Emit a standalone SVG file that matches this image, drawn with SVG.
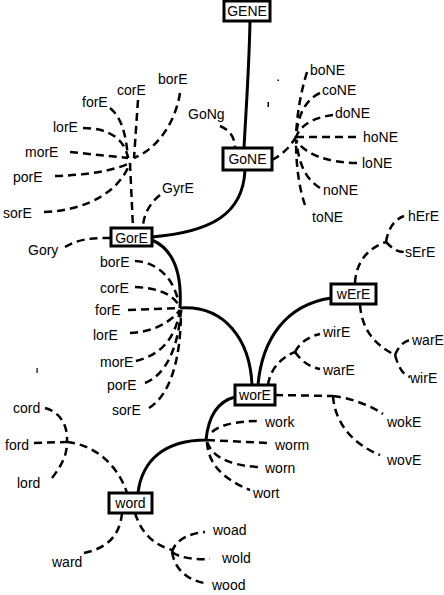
<svg xmlns="http://www.w3.org/2000/svg" width="444" height="595" viewBox="0 0 444 595">
<style>
text{font-family:"Liberation Sans",Arial,sans-serif;font-size:14px;fill:#000}
.bx{fill:#fff;stroke:#000;stroke-width:3}
.bt{text-anchor:middle}
.s{fill:none;stroke:#000;stroke-width:3}
.d{fill:none;stroke:#000;stroke-width:2.5;stroke-dasharray:8 5}
</style>
<rect width="444" height="595" fill="#fff"/>
<g id="connectors">
<path class="s" d="M250,21 C249,70 246,110 244,148"/>
<path class="s" d="M245,170 C243,215 210,232 152,237"/>
<path class="s" d="M152,240 C175,250 182,275 180,308"/>
<path class="s" d="M180,308 C225,305 250,340 252,385"/>
<path class="s" d="M331,298 C285,305 262,340 258,385"/>
<path class="s" d="M235,397 C215,402 208,420 206,440 C165,440 142,460 138,493"/>
<path class="d" d="M83,128 C110,128 125,140 128,158"/>
<path class="d" d="M110,108 C122,118 126,135 128,158"/>
<path class="d" d="M138,100 L134,158"/>
<path class="d" d="M180,93 C175,125 155,150 134,158"/>
<path class="d" d="M70,152 L128,158"/>
<path class="d" d="M55,176 C90,175 115,170 130,163"/>
<path class="d" d="M44,212 C90,210 120,190 130,163"/>
<path class="d" d="M130,163 L133,228"/>
<path class="d" d="M160,195 C150,203 143,215 143,228"/>
<path class="d" d="M220,126 C230,130 235,138 235,148"/>
<path class="d" d="M307,72 C300,95 297,115 296,137"/>
<path class="d" d="M320,93 C305,100 298,115 296,137"/>
<path class="d" d="M333,115 C318,117 302,122 296,137"/>
<path class="d" d="M356,137 L296,137"/>
<path class="d" d="M357,163 C330,163 305,155 296,140"/>
<path class="d" d="M320,188 C308,180 300,170 296,140"/>
<path class="d" d="M305,205 C298,185 296,160 296,140"/>
<path class="d" d="M272,160 C282,155 290,147 296,137"/>
<path class="d" d="M65,247 C80,238 95,238 111,238"/>
<path class="d" d="M135,261 C155,262 172,275 178,300"/>
<path class="d" d="M135,287 C155,288 170,292 179,305"/>
<path class="d" d="M128,310 L180,308"/>
<path class="d" d="M130,333 C150,332 168,325 180,310"/>
<path class="d" d="M136,361 C160,355 175,340 180,310"/>
<path class="d" d="M145,383 C165,375 178,350 181,310"/>
<path class="d" d="M149,408 C170,395 181,360 181,310"/>
<path class="d" d="M355,283 C356,262 368,248 386,242"/>
<path class="d" d="M386,242 C388,230 393,220 404,216"/>
<path class="d" d="M386,242 C392,248 396,252 404,252"/>
<path class="d" d="M360,305 C362,330 375,345 395,355"/>
<path class="d" d="M395,355 C398,348 402,342 410,340"/>
<path class="d" d="M395,355 C398,365 402,375 410,377"/>
<path class="d" d="M268,385 C270,370 280,358 295,352"/>
<path class="d" d="M295,352 C300,342 310,336 320,334"/>
<path class="d" d="M295,352 C302,362 310,367 320,369"/>
<path class="d" d="M275,395 L333,396"/>
<path class="d" d="M333,396 C350,398 370,405 383,414"/>
<path class="d" d="M333,396 C335,425 355,445 380,455"/>
<path class="d" d="M212,432 C220,425 235,421 262,421"/>
<path class="d" d="M207,440 L268,443"/>
<path class="d" d="M207,442 C212,455 225,465 258,467"/>
<path class="d" d="M207,442 C208,465 225,480 250,490"/>
<path class="d" d="M45,408 C60,412 68,425 67,442"/>
<path class="d" d="M52,478 C62,465 67,455 67,442"/>
<path class="d" d="M34,443 L67,442"/>
<path class="d" d="M67,442 C95,445 118,465 127,493"/>
<path class="d" d="M122,513 C120,535 108,548 84,553"/>
<path class="d" d="M135,513 C142,535 155,545 172,550"/>
<path class="d" d="M172,552 C175,540 190,533 205,532"/>
<path class="d" d="M172,552 C180,558 195,560 210,559"/>
<path class="d" d="M172,552 C175,570 188,580 204,583"/>
</g>
<g id="GENE"><rect class="bx" x="224" y="1" width="46" height="20"/><text class="bt" x="247" y="16">GENE</text></g>
<g id="GoNE"><rect class="bx" x="223" y="148" width="49" height="22"/><text class="bt" x="247.5" y="164">GoNE</text></g>
<g id="GorE"><rect class="bx" x="111" y="228" width="41" height="18"/><text class="bt" x="131.5" y="243">GorE</text></g>
<g id="wErE"><rect class="bx" x="331" y="284" width="45" height="20"/><text class="bt" x="353.5" y="299">wErE</text></g>
<g id="worE"><rect class="bx" x="235" y="385" width="40" height="20"/><text class="bt" x="255" y="400">worE</text></g>
<g id="word"><rect class="bx" x="109" y="493" width="43" height="20"/><text class="bt" x="130.5" y="508">word</text></g>
<g id="labels">
<text x="158" y="84">borE</text>
<text x="117" y="95">corE</text>
<text x="82" y="107">forE</text>
<text x="53" y="132">lorE</text>
<text x="25" y="157">morE</text>
<text x="13" y="182">porE</text>
<text x="3" y="218">sorE</text>
<text x="188" y="119">GoNg</text>
<text x="162" y="193">GyrE</text>
<text x="310" y="75">boNE</text>
<text x="322" y="95">coNE</text>
<text x="335" y="118">doNE</text>
<text x="363" y="142">hoNE</text>
<text x="362" y="168">loNE</text>
<text x="323" y="195">noNE</text>
<text x="312" y="222">toNE</text>
<text x="408" y="221">hErE</text>
<text x="405" y="257">sErE</text>
<text x="28" y="255">Gory</text>
<text x="100" y="267">borE</text>
<text x="100" y="293">corE</text>
<text x="95" y="315">forE</text>
<text x="93" y="340">lorE</text>
<text x="100" y="367">morE</text>
<text x="107" y="390">porE</text>
<text x="112" y="415">sorE</text>
<text x="323" y="337">wirE</text>
<text x="323" y="375">warE</text>
<text x="412" y="345">warE</text>
<text x="410" y="383">wirE</text>
<text x="387" y="427">wokE</text>
<text x="387" y="465">wovE</text>
<text x="265" y="427">work</text>
<text x="275" y="450">worm</text>
<text x="265" y="473">worn</text>
<text x="253" y="498">wort</text>
<text x="13" y="413">cord</text>
<text x="5" y="450">ford</text>
<text x="17" y="488">lord</text>
<text x="52" y="567">ward</text>
<text x="213" y="535">woad</text>
<text x="222" y="563">wold</text>
<text x="212" y="590">wood</text>
</g>
<g id="marks">
<rect x="277.5" y="79.5" width="1.5" height="1.5"/>
<rect x="267.5" y="102" width="1.5" height="5"/>
<rect x="36.5" y="368" width="1.2" height="5"/>
</g>
</svg>
